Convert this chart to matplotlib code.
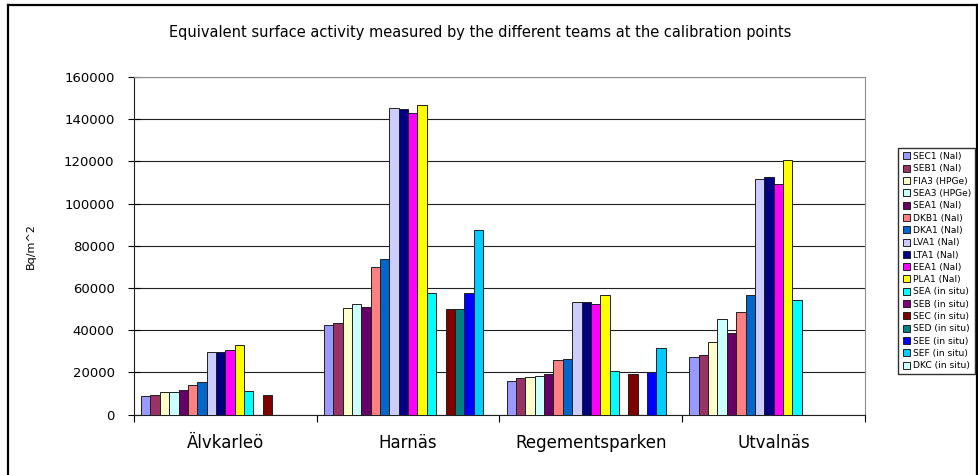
import matplotlib
matplotlib.use("Agg")
import matplotlib.pyplot as plt
from matplotlib.lines import Line2D
import numpy as np

plt.rcParams["font.family"] = ["DejaVu Sans"]

# Measurement sites
sites = ["Älvkarleö", "Harnäs", "Regementsparken", "Utvalnäs"]

# Teams / instruments
teams = [
    "SEC1 (NaI)", "SEB1 (NaI)", "FIA3 (HPGe)", "SEA3 (HPGe)", "SEA1 (NaI)",
    "DKB1 (NaI)", "DKA1 (NaI)", "LVA1 (NaI)", "LTA1 (NaI)", "EEA1 (NaI)",
    "PLA1 (NaI)", "SEA (in situ)", "SEB (in situ)", "SEC (in situ)",
    "SED (in situ)", "SEE (in situ)", "SEF (in situ)", "DKC (in situ)",
]

nan = np.nan
# Equivalent surface activity (Bq/m^2) per team, one value per site
sec1 = [8900, 42300, 16000, 27300]
seb1 = [9300, 43600, 17300, 28200]
fia3 = [10600, 50500, 17900, 34600]
sea3 = [10700, 52400, 18200, 45400]
sea1 = [11400, 50800, 19000, 38700]
dkb1 = [13800, 69700, 25900, 48400]
dka1 = [15500, 73600, 26500, 56700]
lva1 = [29800, 145200, 53100, 111700]
lta1 = [29700, 144900, 53100, 112500]
eea1 = [30500, 142800, 52400, 109500]
pla1 = [33100, 146600, 56500, 120500]
sea_is = [11000, 57600, 20500, 54100]
seb_is = [nan, nan, nan, nan]
sec_is = [9300, 50200, 19000, nan]
sed_is = [nan, 50200, nan, nan]
see_is = [nan, 57500, 20000, nan]
sef_is = [nan, 87700, 31400, nan]
dkc_is = [nan, nan, nan, nan]

values = [sec1, seb1, fia3, sea3, sea1, dkb1, dka1, lva1, lta1, eea1, pla1,
          sea_is, seb_is, sec_is, sed_is, see_is, sef_is, dkc_is]

colors = [
    "#9999FF", "#993366", "#FFFFCC", "#CCFFFF", "#660066", "#FF8080",
    "#0066CC", "#CCCCFF", "#000080", "#FF00FF", "#FFFF00", "#00FFFF",
    "#800080", "#800000", "#008080", "#0000FF", "#00CCFF", "#CCFFFF",
]

W, H = 979, 475
fig = plt.figure(figsize=(W / 100, H / 100), dpi=100)
ax = fig.add_axes([134 / W, 1 - 414.5 / H, (865 - 134) / W, (414.5 - 77) / H])

n = len(teams)
bw = 1 / (n + 1.5)
x = np.arange(len(sites))
for i, (team, vals, col) in enumerate(zip(teams, values, colors)):
    ax.bar(x - n * bw / 2 + (i + 0.5) * bw, vals, width=bw, color=col,
           edgecolor="#202020", linewidth=0.7, label=team, zorder=3)

ax.set_xlim(-0.5, len(sites) - 0.5)
ax.set_ylim(0, 160000)
ax.set_yticks(np.arange(0, 160001, 20000))
ax.set_yticklabels([str(v) for v in range(0, 160001, 20000)], fontsize=9.5)
ax.grid(axis="y", color="#202020", linewidth=0.8, zorder=0)

ax.set_xticks(x)
ax.set_xticklabels(sites, fontsize=12)
ax.tick_params(axis="x", length=0, pad=14)
ax.set_xticks(np.arange(-0.5, len(sites)), minor=True)
ax.tick_params(axis="x", which="minor", length=5, direction="out", width=0.8)
ax.tick_params(axis="y", length=8, direction="inout", width=0.8, pad=10)

for side in ("top", "right"):
    ax.spines[side].set_color("#909090")
for side in ("left", "bottom"):
    ax.spines[side].set_color("#202020")

ax.set_ylabel("Bq/m^2", fontsize=8, labelpad=20)

fig.text(480 / W, 1 - 33 / H, "Equivalent surface activity measured by the different teams at the calibration points",
         ha="center", va="center", fontsize=10.5)

fig.legend(loc="upper right", bbox_to_anchor=(975 / W, 1 - 148 / H), fontsize=6.6,
           frameon=True, fancybox=False, edgecolor="#303030", framealpha=1,
           handlelength=0.8, handleheight=0.8, handletextpad=0.3,
           labelspacing=0.36, borderpad=0.45, borderaxespad=0)

# outer chart border
fr = dict(color="black", linewidth=1.6, transform=fig.transFigure)
fig.add_artist(Line2D([8 / W, 8 / W], [-0.1, 1 - 5 / H], **fr))
fig.add_artist(Line2D([8 / W, 977 / W], [1 - 5 / H, 1 - 5 / H], **fr))
fig.add_artist(Line2D([977 / W, 977 / W], [-0.1, 1 - 5 / H], **fr))

fig.savefig("out.png", dpi=100)
